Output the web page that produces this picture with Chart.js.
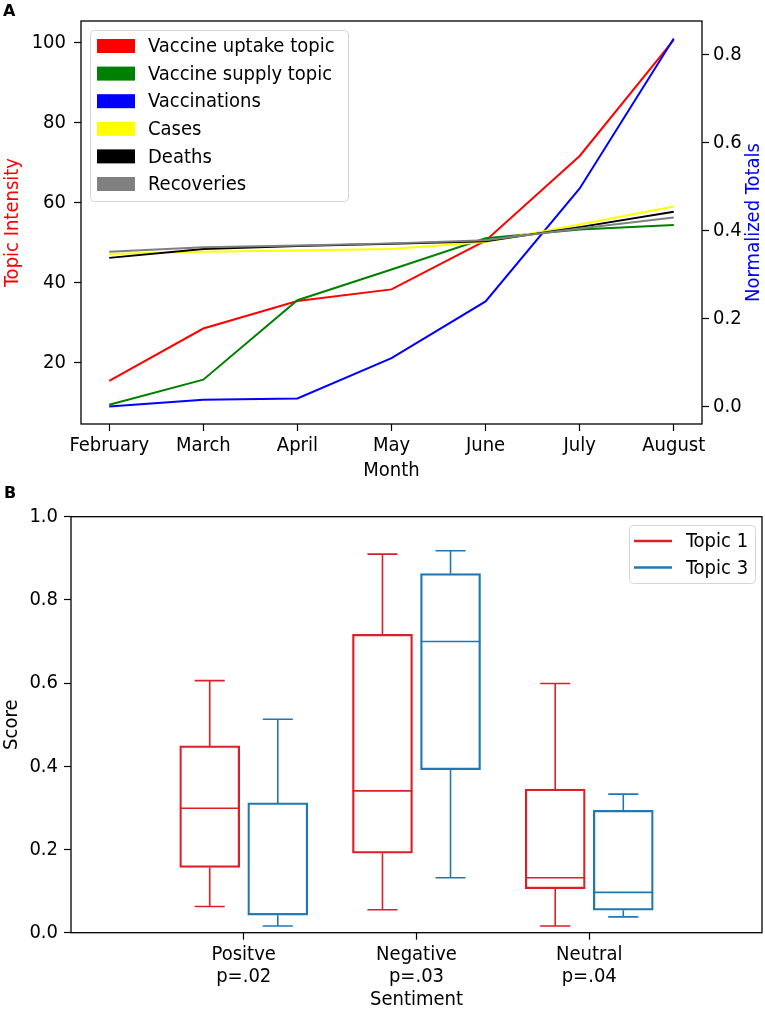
<!DOCTYPE html>
<html>
<head>
<meta charset="utf-8">
<script src="https://cdn.jsdelivr.net/npm/chart.js@4.4.0/dist/chart.umd.min.js"></script>
<style>
  body { margin: 0; background: #fff; }
  canvas { display: block; }
</style>
</head>
<body>
<canvas id="topChart" width="765" height="485"></canvas>
<canvas id="boxChart" width="765" height="525"></canvas>
<script>
// Panel A data
const months = ["February", "March", "April", "May", "June", "July", "August"];
const vaccineUptake = [15.4, 28.5, 35.4, 38.3, 50.5, 71.7, 100.8];
const vaccineSupply = [9.4, 15.7, 35.6, 43.3, 51.1, 53.3, 54.4];
const vaccinations = [0.0, 0.015, 0.018, 0.11, 0.239, 0.496, 0.837];
const cases = [0.347, 0.352, 0.355, 0.358, 0.374, 0.414, 0.455];
const deaths = [0.338, 0.358, 0.365, 0.370, 0.376, 0.408, 0.443];
const recoveries = [0.352, 0.362, 0.366, 0.371, 0.378, 0.405, 0.430];

// Panel B data
const sentiments = [["Positve", "p=.02"], ["Negative", "p=.03"], ["Neutral", "p=.04"]];
const topic1Min = [0.063, 0.055, 0.016];
const topic1Q1 = [0.157, 0.191, 0.106];
const topic1Median = [0.299, 0.341, 0.132];
const topic1Q3 = [0.449, 0.717, 0.345];
const topic1Max = [0.606, 0.910, 0.599];
const topic3Min = [0.016, 0.132, 0.038];
const topic3Q1 = [0.042, 0.392, 0.054];
const topic3Median = [0.045, 0.700, 0.097];
const topic3Q3 = [0.312, 0.863, 0.294];
const topic3Max = [0.513, 0.918, 0.333];

const FAMILY = "'DejaVu Sans Condensed', 'DejaVu Sans', sans-serif";
const FS = 20;
Chart.defaults.font.family = FAMILY;
Chart.defaults.font.size = FS;
Chart.defaults.color = "#000";

const RED = "#dc1f26";
const BLUE = "#1f77b4";

// spines all round, like matplotlib
const frame = {
    id: "frame",
    afterDatasetsDraw(chart) {
        const { left, top, right, bottom } = chart.chartArea;
        const ctx = chart.ctx;
        ctx.save();
        ctx.strokeStyle = "#000";
        ctx.lineWidth = 1.3;
        ctx.strokeRect(left, top, right - left, bottom - top);
        ctx.restore();
    }
};

function panelLetter(ctx, letter, x, y) {
    ctx.save();
    ctx.font = "bold 16px 'DejaVu Sans', sans-serif";
    ctx.fillStyle = "#000";
    ctx.textBaseline = "middle";
    ctx.fillText(letter, x, y);
    ctx.restore();
}

const tickGrid = { drawOnChartArea: false, drawTicks: true, tickLength: 7, color: "#000", tickWidth: 1.2 };

// ---------- Panel A ----------
const toPoints = vals => vals.map((v, i) => ({ x: i, y: v }));
function lineSet(label, color, vals, axis, order) {
    return {
        label: label,
        data: toPoints(vals),
        borderColor: color,
        backgroundColor: color,
        borderWidth: 2,
        pointRadius: 0,
        yAxisID: axis,
        order: order
    };
}

const extrasA = {
    id: "extrasA",
    afterDraw(chart) {
        const ctx = chart.ctx;
        const area = chart.chartArea;
        ctx.save();
        // right axis title, rotated bottom-to-top
        ctx.translate(754, (area.top + area.bottom) / 2);
        ctx.rotate(-Math.PI / 2);
        ctx.font = FS + "px " + FAMILY;
        ctx.fillStyle = "blue";
        ctx.textAlign = "center";
        ctx.textBaseline = "middle";
        ctx.fillText("Normalized Totals", 0, 0);
        ctx.restore();

        // legend
        ctx.save();
        ctx.beginPath();
        ctx.roundRect(90.5, 30.5, 258, 171, 4);
        ctx.fillStyle = "rgba(255,255,255,0.8)";
        ctx.fill();
        ctx.strokeStyle = "#d5d5d5";
        ctx.lineWidth = 1;
        ctx.stroke();
        ctx.font = FS + "px " + FAMILY;
        ctx.textBaseline = "middle";
        chart.data.datasets.forEach((ds, i) => {
            const y = 46 + i * 27.6;
            ctx.fillStyle = ds.borderColor;
            ctx.fillRect(97, y - 7, 38, 14);
            ctx.fillStyle = "#000";
            ctx.fillText(ds.label, 148, y + 1);
        });
        ctx.restore();

        panelLetter(ctx, "A", 3, 12);
    }
};

new Chart(document.getElementById("topChart"), {
    type: "line",
    data: {
        datasets: [
            lineSet("Vaccine uptake topic", "red", vaccineUptake, "y", 6),
            lineSet("Vaccine supply topic", "green", vaccineSupply, "y", 5),
            lineSet("Vaccinations", "blue", vaccinations, "y2", 4),
            lineSet("Cases", "yellow", cases, "y2", 3),
            lineSet("Deaths", "black", deaths, "y2", 2),
            lineSet("Recoveries", "gray", recoveries, "y2", 1)
        ]
    },
    options: {
        responsive: false,
        animation: false,
        layout: { padding: { top: 21, left: 0, right: 0, bottom: 0 } },
        plugins: { legend: { display: false }, tooltip: { enabled: false } },
        scales: {
            x: {
                type: "linear",
                min: -0.3,
                max: 6.3,
                afterBuildTicks: s => { s.ticks = months.map((m, i) => ({ value: i })); },
                afterFit: s => { s.height = 61; },
                ticks: { callback: v => months[v], autoSkip: false, maxRotation: 0, padding: 3 },
                grid: tickGrid,
                border: { display: false },
                title: { display: true, text: "Month", padding: { top: 0, bottom: 2 } }
            },
            y: {
                type: "linear",
                position: "left",
                min: 4.6,
                max: 105.5,
                afterFit: s => { s.width = 81; },
                ticks: { stepSize: 20, includeBounds: false, padding: 8 },
                grid: tickGrid,
                border: { display: false },
                title: { display: true, text: "Topic Intensity", color: "red", padding: { top: 1, bottom: 0 } }
            },
            y2: {
                type: "linear",
                position: "right",
                min: -0.04,
                max: 0.877,
                afterFit: s => { s.width = 63; },
                ticks: { stepSize: 0.2, includeBounds: false, padding: 4, callback: v => v.toFixed(1) },
                grid: tickGrid,
                border: { display: false }
            }
        }
    },
    plugins: [frame, extrasA]
});

// ---------- Panel B ----------
const SHIFT = 0.197;     // box offset from category centre
const HALF_BOX = 0.173;  // half box width, in x units
const HALF_CAP = 0.087;

function boxSet(label, color, q1s, q3s, shift) {
    return {
        type: "bar",
        label: label,
        data: q1s.map((q1, i) => ({ x: i + 1 + shift, y: [q1, q3s[i]] })),
        borderColor: color,
        backgroundColor: "rgba(0,0,0,0)",
        borderWidth: 1.6,
        borderSkipped: false,
        barThickness: 60,
        grouped: false
    };
}

function whiskerSet(color, mins, meds, q1s, q3s, maxs, shift) {
    const pts = [];
    mins.forEach((mn, i) => {
        const c = i + 1 + shift;
        pts.push({ x: c, y: q3s[i] }, { x: c, y: maxs[i] }, { x: c, y: null });
        pts.push({ x: c - HALF_CAP, y: maxs[i] }, { x: c + HALF_CAP, y: maxs[i] }, { x: c, y: null });
        pts.push({ x: c, y: q1s[i] }, { x: c, y: mn }, { x: c, y: null });
        pts.push({ x: c - HALF_CAP, y: mn }, { x: c + HALF_CAP, y: mn }, { x: c, y: null });
        pts.push({ x: c - HALF_BOX, y: meds[i] }, { x: c + HALF_BOX, y: meds[i] }, { x: c, y: null });
    });
    return {
        type: "line",
        label: "",
        data: pts,
        borderColor: color,
        borderWidth: 1.6,
        pointRadius: 0,
        spanGaps: false
    };
}

const extrasB = {
    id: "extrasB",
    afterDraw(chart) {
        const ctx = chart.ctx;
        ctx.save();
        ctx.beginPath();
        ctx.roundRect(629.5, 40.5, 126, 58, 4);
        ctx.fillStyle = "rgba(255,255,255,0.8)";
        ctx.fill();
        ctx.strokeStyle = "#d5d5d5";
        ctx.lineWidth = 1;
        ctx.stroke();
        ctx.font = FS + "px " + FAMILY;
        ctx.textBaseline = "middle";
        const boxes = chart.data.datasets.filter(ds => ds.type === "bar");
        boxes.forEach((ds, i) => {
            const y = 56 + i * 26.5;
            ctx.strokeStyle = ds.borderColor;
            ctx.lineWidth = 2.5;
            ctx.beginPath();
            ctx.moveTo(634, y);
            ctx.lineTo(672, y);
            ctx.stroke();
            ctx.fillStyle = "#000";
            ctx.fillText(ds.label, 686, y + 1);
        });
        ctx.restore();

        panelLetter(ctx, "B", 4, 8.5);
    }
};

new Chart(document.getElementById("boxChart"), {
    type: "bar",
    data: {
        datasets: [
            boxSet("Topic 1", RED, topic1Q1, topic1Q3, -SHIFT),
            boxSet("Topic 3", BLUE, topic3Q1, topic3Q3, SHIFT),
            whiskerSet(RED, topic1Min, topic1Median, topic1Q1, topic1Q3, topic1Max, -SHIFT),
            whiskerSet(BLUE, topic3Min, topic3Median, topic3Q1, topic3Q3, topic3Max, SHIFT)
        ]
    },
    options: {
        responsive: false,
        animation: false,
        layout: { padding: { top: 31.7, left: 0, right: 3, bottom: 0 } },
        plugins: { legend: { display: false }, tooltip: { enabled: false } },
        scales: {
            x: {
                type: "linear",
                min: 0,
                max: 4,
                offset: false,
                afterBuildTicks: s => { s.ticks = sentiments.map((c, i) => ({ value: i + 1 })); },
                afterFit: s => { s.height = 77.3; },
                ticks: { callback: v => sentiments[v - 1], autoSkip: false, maxRotation: 0, padding: 4, font: { lineHeight: 1.1 } },
                grid: Object.assign({}, tickGrid, { offset: false }),
                border: { display: false },
                title: { display: true, text: "Sentiment", font: { lineHeight: 1 }, padding: { top: 0, bottom: 0 } }
            },
            y: {
                type: "linear",
                min: 0,
                max: 1,
                afterFit: s => { s.width = 71; },
                ticks: { stepSize: 0.2, padding: 6, callback: v => v.toFixed(1) },
                grid: tickGrid,
                border: { display: false },
                title: { display: true, text: "Score", padding: { top: 0, bottom: 0 } }
            }
        }
    },
    plugins: [frame, extrasB]
});
</script>
</body>
</html>
